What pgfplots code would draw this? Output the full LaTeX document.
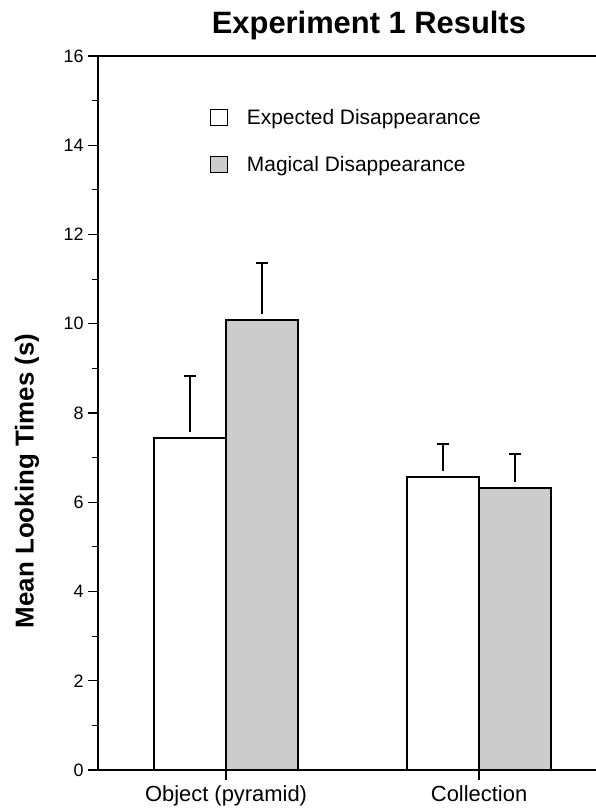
\documentclass[border=0pt]{standalone}
\usepackage{pgfplots}
\usepackage{pgfplotstable}
\pgfplotsset{compat=1.18}
\usepackage{fontspec}
\setmainfont{Liberation Sans}
\pgfplotstableread{
x  y     err
0  7.44  1.39
1  6.57  0.74
}\expected
\pgfplotstableread{
x  y     err
0  10.08 1.28
1  6.32  0.76
}\magical
\begin{document}
\begin{tikzpicture}
\begin{axis}[
  scale only axis, width=498bp, height=714bp,
  ybar=0pt, bar width=72bp,
  xmin=-0.506, xmax=1.462, ymin=0, ymax=16,
  axis x line*=box, axis y line*=left,
  xtick={0,1}, xticklabels={Object (pyramid), Collection},
  xtick pos=bottom, ytick pos=left,
  ytick={0,2,...,16}, minor y tick num=1,
  tick align=outside,
  major tick length=10bp, minor tick length=6bp,
  every tick/.style={black, line width=1.2bp},
  axis line style={line width=1.5bp},
  /pgf/number format/assume math mode=true,
  yticklabel style={font=\fontsize{18}{18}\selectfont, xshift=-1bp},
  xticklabel style={font=\fontsize{22}{22}\selectfont, yshift=-2bp},
  ylabel={Mean Looking Times (s)},
  every axis y label/.style={at={(axis description cs:0,0.405)}, xshift=-71bp, rotate=90, anchor=center, font=\bfseries\fontsize{26}{26}\selectfont},
  title={Experiment 1 Results},
  every axis title/.style={at={(axis description cs:0.544,1)}, anchor=base, yshift=22bp, font=\bfseries\fontsize{31}{31}\selectfont},
  legend style={draw=none, fill=none, at={(0.224,0.929)}, anchor=north west, font=\fontsize{21}{21}\selectfont, row sep=27bp, inner sep=0pt,
    /tikz/every odd column/.append style={column sep=17bp}},
  legend cell align=left,
  legend image code/.code={\draw[#1, line width=1.2bp] (0bp,-8bp) rectangle (17bp,8bp);},
  error bars/error bar style={line width=1.5bp, black, shorten <=6bp},
  error bars/error mark options={rotate=90, line width=1.5bp, mark size=6bp, black},
]
\addplot[draw=black, line width=1.5bp, fill=white,
  error bars/.cd, y dir=plus, y explicit]
  table[x=x, y=y, y error=err] {\expected};
\addlegendentry{Expected Disappearance}
\addplot[draw=black, line width=1.5bp, fill=black!20,
  error bars/.cd, y dir=plus, y explicit]
  table[x=x, y=y, y error=err] {\magical};
\addlegendentry{Magical Disappearance}
\end{axis}
\pgfresetboundingbox
\path[use as bounding box] ([shift={(-98bp,-40bp)}]current axis.south west) rectangle ([shift={(498bp,770bp)}]current axis.south west);
\end{tikzpicture}
\end{document}
